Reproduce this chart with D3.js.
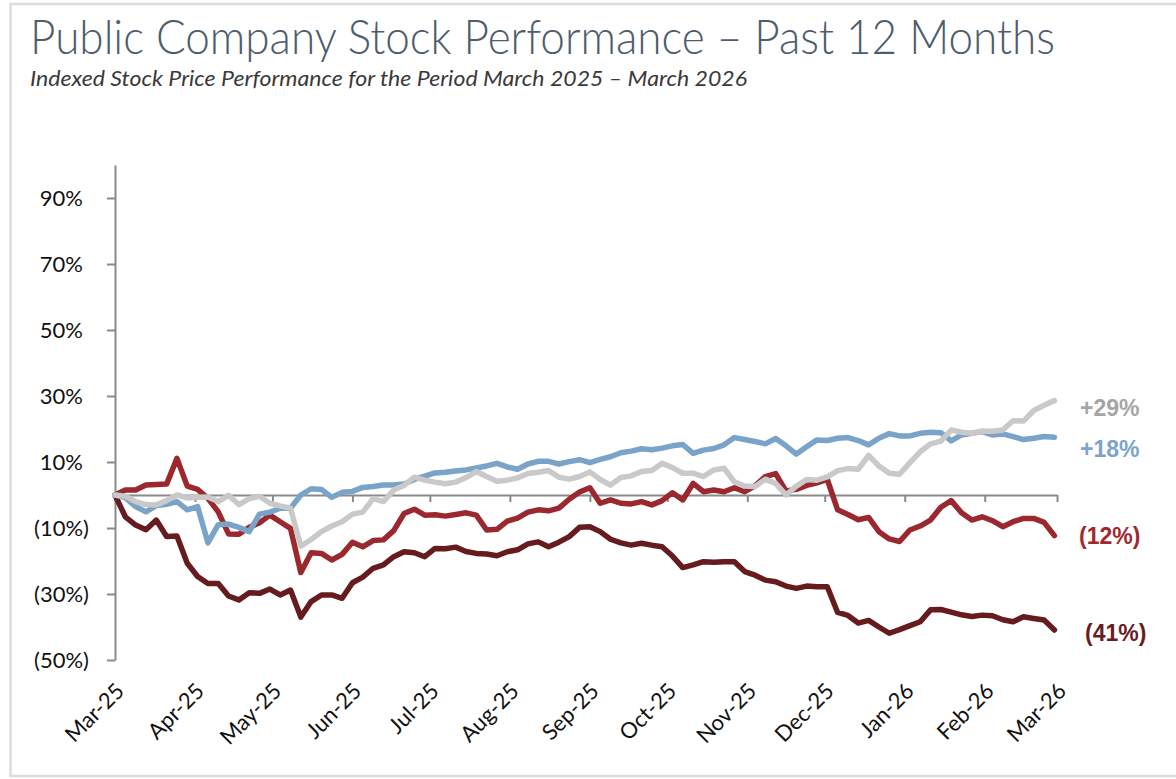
<!DOCTYPE html>
<html>
<head>
<meta charset="utf-8">
<script src="https://cdn.jsdelivr.net/npm/d3@7"></script>
<style>
  body { margin: 0; background: #fff; }
  svg { display: block; }
</style>
</head>
<body>
<div id="chart"></div>
<script>
// sample dates, every 4 days from Mar 1 2025
var dates = d3.timeDay.range(new Date(2025, 2, 1), new Date(2026, 2, 1), 4);

var darkRedValues = [0, -6.6, -9.1, -10.5, -7.6, -12.6, -12.4, -20.7, -24.7, -26.8,
  -26.8, -30.6, -31.8, -29.6, -29.8, -28.5, -30.3, -28.8, -37.0, -32.3,
  -30.3, -30.3, -31.3, -26.6, -24.9, -22.2, -21.2, -18.7, -17.2, -17.5,
  -18.7, -16.2, -16.3, -15.8, -17.1, -17.7, -17.9, -18.4, -17.2, -16.6,
  -14.8, -14.2, -15.7, -14.3, -12.6, -9.8, -9.6, -11.1, -13.4, -14.5,
  -15.2, -14.6, -15.2, -15.7, -18.5, -22.0, -21.2, -20.2, -20.4, -20.2,
  -20.2, -23.2, -24.3, -25.8, -26.3, -27.6, -28.3, -27.6, -27.8, -27.8,
  -35.6, -36.5, -38.8, -38.0, -40.0, -41.9, -40.8, -39.6, -38.4, -34.8,
  -34.7, -35.5, -36.3, -36.8, -36.4, -36.6, -37.8, -38.4, -36.9, -37.4,
  -37.9, -40.9];

var redValues = [0, 1.5, 1.5, 3.0, 3.2, 3.3, 11.1, 2.7, 1.7, -1.0,
  -5.1, -11.8, -11.9, -9.8, -8.4, -6.1, -8.1, -10.1, -23.5, -17.5,
  -17.7, -19.7, -18.0, -14.3, -15.7, -13.8, -13.6, -10.8, -5.6, -4.3,
  -6.1, -6.0, -6.4, -5.9, -5.4, -6.1, -10.6, -10.4, -7.9, -7.0,
  -5.2, -4.5, -4.8, -4.0, -1.3, 0.9, 2.2, -2.5, -1.5, -2.5,
  -2.7, -2.0, -3.0, -1.7, 0.7, -1.5, 3.5, 1.0, 1.5, 1.0,
  2.2, 1.0, 2.8, 5.6, 6.5, 1.2, 1.7, 2.9, 3.7, 4.7,
  -4.5, -5.9, -7.5, -6.8, -11.1, -13.3, -14.1, -10.6, -9.4, -7.6,
  -3.7, -1.7, -5.4, -7.6, -6.6, -7.8, -9.6, -8.1, -7.1, -7.1,
  -8.3, -12.3];

var blueValues = [0, -0.8, -3.5, -5.1, -3.2, -2.8, -2.0, -4.5, -3.5, -14.5,
  -9.0, -8.8, -9.8, -11.1, -5.8, -5.2, -4.0, -4.0, 0.0, 1.9,
  1.7, -0.7, 0.8, 1.1, 2.3, 2.6, 3.0, 3.0, 3.3, 4.7,
  5.7, 6.7, 6.9, 7.3, 7.6, 8.2, 8.8, 9.6, 8.5, 7.8,
  9.4, 10.2, 10.2, 9.4, 10.1, 10.7, 9.8, 10.8, 11.6, 12.8,
  13.3, 14.0, 13.7, 14.2, 14.9, 15.3, 12.6, 13.6, 14.1, 15.2,
  17.4, 16.8, 16.2, 15.5, 17.1, 14.9, 12.4, 14.6, 16.7, 16.5,
  17.2, 17.4, 16.5, 15.2, 17.2, 18.6, 17.9, 17.9, 18.7, 19.0,
  18.9, 16.4, 18.2, 18.7, 19.2, 18.2, 18.5, 17.7, 16.8, 17.2,
  17.7, 17.5];

var grayValues = [0, -0.4, -2.0, -2.9, -3.0, -1.7, 0, -0.9, -0.7, -0.6,
  -2.0, -0.1, -2.9, -1.1, -0.4, -2.5, -3.3, -4.0, -15.5, -13.5,
  -11.1, -9.4, -8.1, -5.8, -5.2, -1.1, -2.0, 1.5, 2.9, 5.4,
  4.5, 3.9, 3.4, 3.9, 5.3, 7.1, 5.6, 4.2, 4.5, 5.2,
  6.5, 6.9, 7.4, 5.4, 4.8, 5.6, 7.0, 4.7, 3.0, 5.3,
  5.8, 7.1, 7.4, 9.6, 8.3, 6.6, 6.6, 5.6, 7.6, 8.1,
  4.0, 2.7, 2.6, 4.8, 3.5, 0.0, 2.7, 4.7, 4.5, 5.5,
  7.4, 8.0, 7.8, 12.0, 8.8, 6.6, 6.3, 9.8, 13.1, 15.5,
  16.3, 19.7, 19.0, 18.7, 19.4, 19.3, 19.7, 22.5, 22.4, 25.6,
  27.2, 28.6];

var yTicks = [-50, -30, -10, 10, 30, 50, 70, 90];
var endLabels = ["(41%)", "(12%)", "+18%", "+29%"];

var width = 1176,
    height = 779;

var svg = d3.select("#chart").append("svg")
    .attr("width", width)
    .attr("height", height);

// light frame round the slide
svg.append("rect")
    .attr("x", 10.5)
    .attr("y", 4)
    .attr("width", 1200)
    .attr("height", 772)
    .attr("fill", "none")
    .attr("stroke", "#dcdcdc")
    .attr("stroke-width", 2.5);

svg.append("text")
    .attr("x", 30)
    .attr("y", 54)
    .attr("textLength", 1025)
    .attr("lengthAdjust", "spacingAndGlyphs")
    .attr("font-family", "Lato, 'Open Sans', sans-serif")
    .attr("font-weight", 300)
    .attr("font-size", "47px")
    .attr("fill", "#4e5d6d")
    .text("Public Company Stock Performance \u2013 Past 12 Months");

svg.append("text")
    .attr("x", 30)
    .attr("y", 86)
    .attr("textLength", 717)
    .attr("lengthAdjust", "spacingAndGlyphs")
    .attr("font-family", "Lato, 'Open Sans', sans-serif")
    .attr("font-style", "italic")
    .attr("font-size", "21px")
    .attr("fill", "#3a3a3a")
    .text("Indexed Stock Price Performance for the Period March 2025 \u2013 March 2026");

var x = d3.scaleTime()
    .domain([new Date(2025, 2, 1), new Date(2026, 2, 1)])
    .range([115, 1057]);

var y = d3.scaleLinear()
    .domain([-50, 100])
    .range([660, 165]);

var axisColor = "#8a8a8a";

// y axis
var yAxis = svg.append("g")
    .attr("transform", "translate(115,0)")
    .call(d3.axisLeft(y)
      .tickValues(yTicks)
      .tickSize(8)
      .tickSizeOuter(0)
      .tickPadding(18)
      .tickFormat(function(d) { return d < 0 ? "(" + Math.abs(d) + "%)" : d + "%"; }));

yAxis.select(".domain").attr("stroke", axisColor).attr("stroke-width", 2);
yAxis.selectAll(".tick line").attr("stroke", axisColor).attr("stroke-width", 2);
yAxis.selectAll(".tick text")
    .attr("font-family", "Lato, 'Open Sans', sans-serif")
    .attr("font-size", "22px")
    .attr("fill", "#111")
    .attr("dx", function(d) { return d < 0 ? 0 : -6; });

// zero line with month ticks
var xAxis = svg.append("g")
    .attr("transform", "translate(0," + y(0) + ")")
    .call(d3.axisBottom(x)
      .ticks(d3.timeMonth.every(1))
      .tickSize(7)
      .tickSizeOuter(0)
      .tickFormat(""));

xAxis.select(".domain").attr("stroke", axisColor).attr("stroke-width", 2);
xAxis.selectAll(".tick line").attr("stroke", axisColor).attr("stroke-width", 2);

// month labels, slanted
var months = x.ticks(d3.timeMonth.every(1));
svg.append("g")
    .selectAll("text")
    .data(months)
    .enter()
    .append("text")
    .attr("transform", function(d) { return "translate(" + (x(d) + 5) + ",687) rotate(-45)"; })
    .attr("text-anchor", "end")
    .attr("dy", ".35em")
    .attr("font-family", "Lato, 'Open Sans', sans-serif")
    .attr("font-size", "22px")
    .attr("fill", "#111")
    .text(d3.timeFormat("%b-%y"));

var series = [
  { name: "darkRed", values: darkRedValues, color: "#661b1e", label: endLabels[0], ly: 641, lx: 1085 },
  { name: "red", values: redValues, color: "#9b282e", label: endLabels[1], ly: 544, lx: 1079 },
  { name: "blue", values: blueValues, color: "#7aa3c9", label: endLabels[2], ly: 457, lx: 1080 },
  { name: "gray", values: grayValues, color: "#c9c9c9", label: endLabels[3], ly: 416, lx: 1080 }
];

var line = d3.line()
    .x(function(d, i) { return x(dates[i]); })
    .y(function(d) { return y(d); });

svg.append("g")
    .selectAll("path")
    .data(series)
    .enter()
    .append("path")
    .attr("d", function(s) { return line(s.values); })
    .attr("fill", "none")
    .attr("stroke", function(s) { return s.color; })
    .attr("stroke-width", 5.5)
    .attr("stroke-linejoin", "round")
    .attr("stroke-linecap", "round");

var labelColors = { darkRed: "#6a1c1f", red: "#a0292f", blue: "#7ba4cb", gray: "#a5a5a5" };

svg.append("g")
    .selectAll("text")
    .data(series)
    .enter()
    .append("text")
    .attr("x", function(s) { return s.lx; })
    .attr("y", function(s) { return s.ly; })
    .attr("font-family", "'Liberation Sans', Arial, sans-serif")
    .attr("font-weight", "bold")
    .attr("font-size", "23px")
    .attr("fill", function(s) { return labelColors[s.name]; })
    .text(function(s) { return s.label; });
</script>
</body>
</html>
